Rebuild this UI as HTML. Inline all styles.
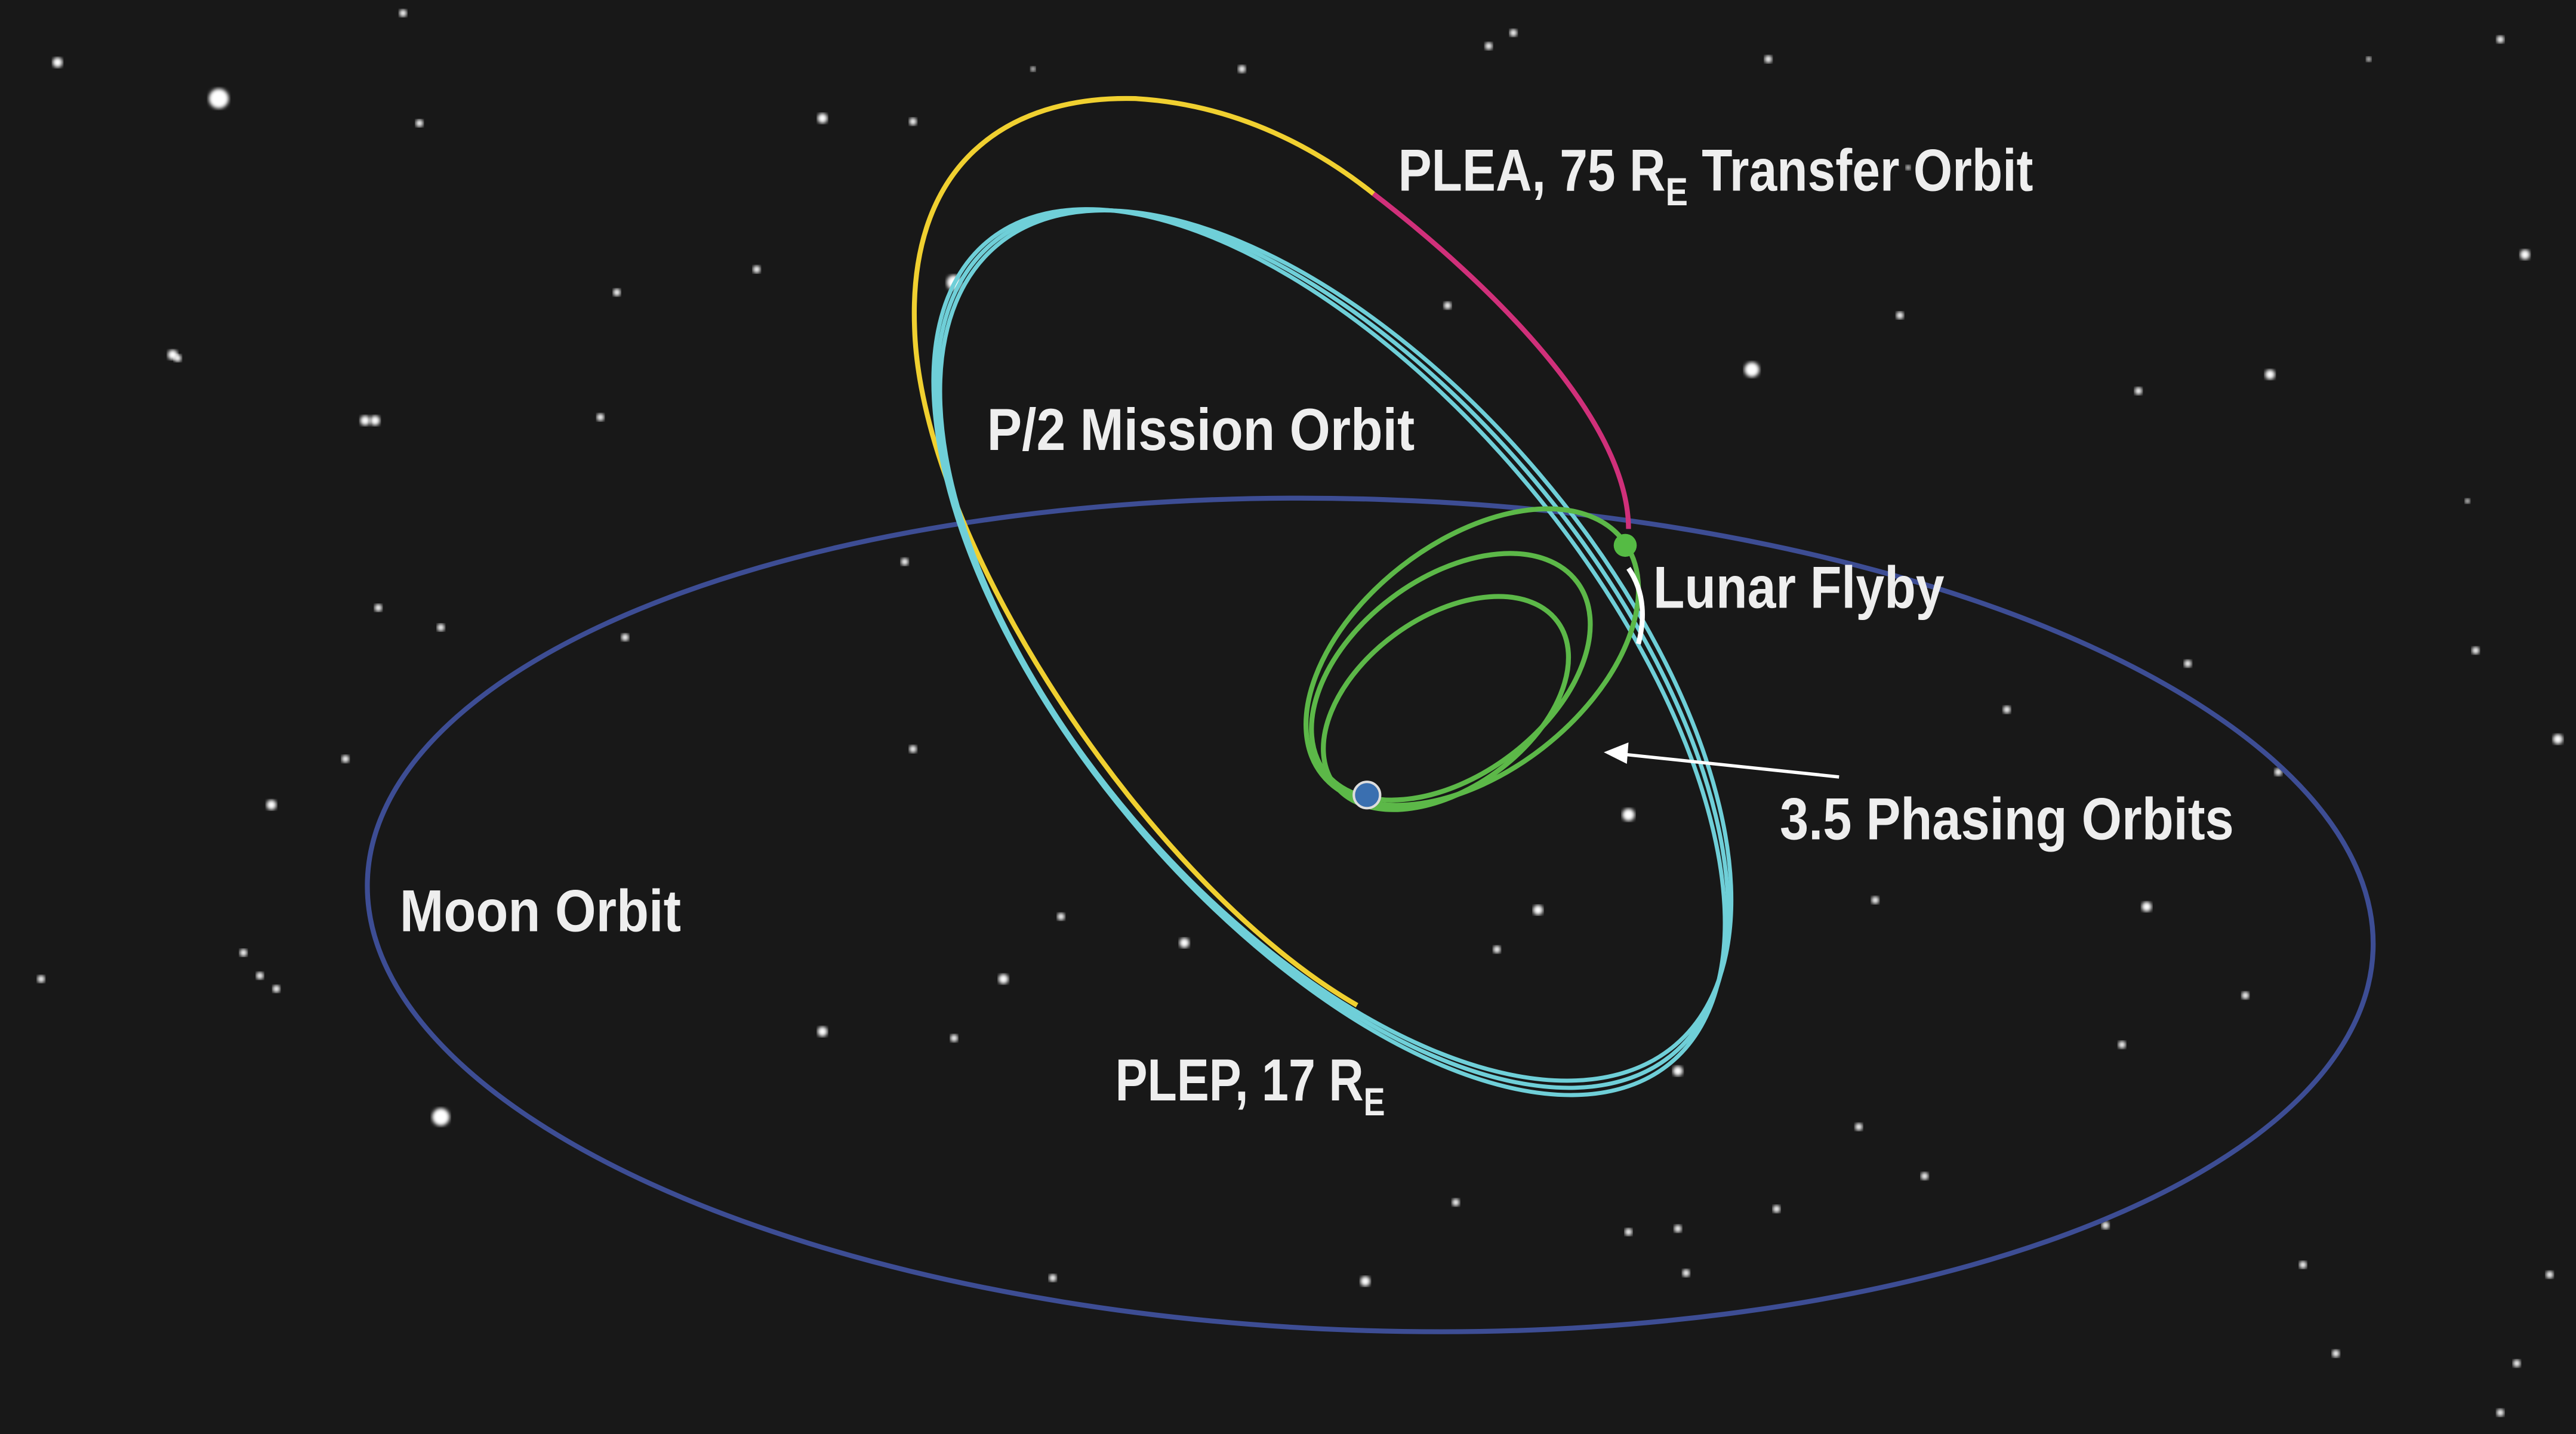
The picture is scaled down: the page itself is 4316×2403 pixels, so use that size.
<!DOCTYPE html>
<html><head><meta charset="utf-8"><style>
html,body{margin:0;padding:0;background:#181818;width:4316px;height:2403px;overflow:hidden}
svg{display:block}
text{font-family:"Liberation Sans Narrow","Liberation Sans",sans-serif;font-weight:bold;fill:#eeeeee}
</style></head><body>
<svg id="chart" width="4316" height="2403" viewBox="0 0 1566 873" preserveAspectRatio="none" xmlns="http://www.w3.org/2000/svg">
<defs><filter id="glow"><feGaussianBlur stdDeviation="1.2"/></filter></defs>
<rect x="0" y="0" width="1566" height="873" fill="#181818"/>
<g id="stars"></g>
<ellipse cx="833" cy="557" rx="610" ry="253" transform="rotate(2 833 557)" fill="none" stroke="#3d4d94" stroke-width="3"/>
<path d="M825,612 C700,540 560,330 556,200 C552,100 612,58 690,60 C760,64 810,98 835,118" fill="none" stroke="#f0d030" stroke-width="3"/>
<path d="M835,118 C905,172 990,255 990,322" fill="none" stroke="#d0307a" stroke-width="3"/>
<g id="mission"></g>
<g id="phasing"></g>
<circle cx="988" cy="332" r="7" fill="#55bb44"/>
<path d="M990,346 Q1003,365 996,392" fill="none" stroke="#ffffff" stroke-width="3"/>
<circle cx="831" cy="484" r="8" fill="#3a6fb0" stroke="#dddddd" stroke-width="1.5"/>
<line x1="1118" y1="473" x2="985" y2="459" stroke="#ffffff" stroke-width="2"/>
<path d="M975,458 L990,452 L989,465 Z" fill="#ffffff"/>
<text x="850" y="116" font-size="36" textLength="386" lengthAdjust="spacingAndGlyphs">PLEA, 75 R<tspan font-size="24" dy="9">E</tspan><tspan dy="-9"> Transfer Orbit</tspan></text>
<text x="600" y="274" font-size="36" textLength="260" lengthAdjust="spacingAndGlyphs">P/2 Mission Orbit</text>
<text x="1005" y="370" font-size="36" textLength="177" lengthAdjust="spacingAndGlyphs">Lunar Flyby</text>
<text x="1082" y="511" font-size="36" textLength="276" lengthAdjust="spacingAndGlyphs">3.5 Phasing Orbits</text>
<text x="243" y="567" font-size="36" textLength="171" lengthAdjust="spacingAndGlyphs">Moon Orbit</text>
<text x="678" y="670" font-size="36" textLength="164" lengthAdjust="spacingAndGlyphs">PLEP, 17 R<tspan font-size="24" dy="9">E</tspan></text>
</svg>
<script>
const starX=[35,133,245,108,222,255,500,555,628,755,905,1075,1160,1440,1520,460,580,375,105,228,365,880,1065,1155,1300,1380,1500,1535,550,230,268,380,555,1220,1330,1505,1555,165,210,645,720,610,990,1020,1140,1305,935,910,500,580,1290,1365,268,148,158,168,25,885,1130,1170,1280,1400,1550,1520,1020,1080,640,830,990,1025,1420,1530,920,1385];
const starY=[38,60,8,218,256,75,72,74,42,42,28,36,102,36,24,164,172,178,216,256,254,186,225,192,238,228,305,155,342,370,382,388,456,432,404,396,450,490,462,558,574,596,496,652,548,552,554,578,628,632,636,606,680,580,594,602,596,732,686,716,746,770,776,860,748,736,778,780,750,775,824,830,20,470];
const starR=[4,8,3,3,4,3,4,3,2,3,3,3,2,2,3,3,6,3,4,4,3,3,6,3,3,4,2,4,3,3,3,3,3,3,3,3,4,4,3,3,4,4,5,4,3,4,4,3,4,3,3,3,7,3,3,3,3,3,3,3,3,3,3,3,3,3,3,4,3,3,3,3,3,3];
const missionCx=[810,808,812];
const missionCy=[395,397,393];
const missionRx=[322,325,319];
const missionRy=[160,158,162];
const missionRot=[50,50.3,49.7];
const phaseCx=[879,882,895];
const phaseCy=[428,412,400];
const phaseRx=[84,96,116];
const phaseRy=[52,60,70];
const phaseRot=[-36,-37,-38];
const NS="http://www.w3.org/2000/svg";
const sg=document.getElementById('stars');
for(let i=0;i<starX.length;i++){
 const c=document.createElementNS(NS,'circle');
 
 
 c.setAttribute('cx',starX[i]);c.setAttribute('cy',starY[i]);c.setAttribute('r',starR[i]*0.75);
 c.setAttribute('fill','#ffffff');c.setAttribute('filter','url(#glow)');
 sg.appendChild(c);
}
const mg=document.getElementById('mission');
for(let i=0;i<missionCx.length;i++){
 const e=document.createElementNS(NS,'ellipse');
 
 
 e.setAttribute('cx',missionCx[i]);e.setAttribute('cy',missionCy[i]);
 e.setAttribute('rx',missionRx[i]);e.setAttribute('ry',missionRy[i]);
 e.setAttribute('transform','rotate('+missionRot[i]+' '+missionCx[i]+' '+missionCy[i]+')');
 e.setAttribute('fill','none');e.setAttribute('stroke','#6fcfd8');e.setAttribute('stroke-width','2.5');
 mg.appendChild(e);
}
const pg=document.getElementById('phasing');
for(let i=0;i<phaseCx.length;i++){
 const e=document.createElementNS(NS,'ellipse');
 
 
 e.setAttribute('cx',phaseCx[i]);e.setAttribute('cy',phaseCy[i]);
 e.setAttribute('rx',phaseRx[i]);e.setAttribute('ry',phaseRy[i]);
 e.setAttribute('transform','rotate('+phaseRot[i]+' '+phaseCx[i]+' '+phaseCy[i]+')');
 e.setAttribute('fill','none');e.setAttribute('stroke','#5cb848');e.setAttribute('stroke-width','3');
 pg.appendChild(e);
}
</script>
</body></html>
